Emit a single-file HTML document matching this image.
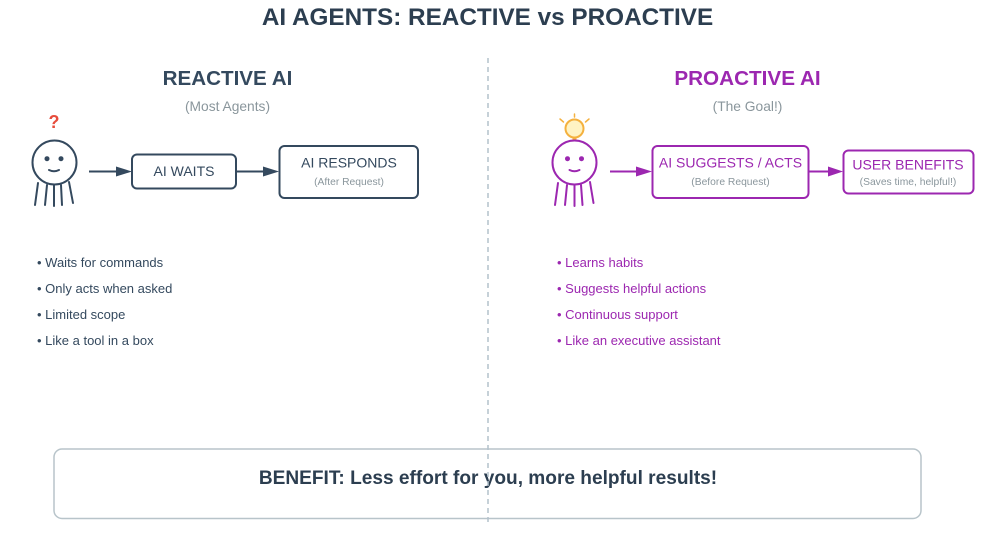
<!DOCTYPE html>
<html>
<head>
<meta charset="utf-8">
<style>
html,body{margin:0;padding:0;background:#fff;width:1001px;height:533px;overflow:hidden}
svg{display:block}
text{font-family:"Liberation Sans",Arial,sans-serif}
</style>
</head>
<body>
<svg width="1001" height="533" viewBox="0 0 1001 533" xmlns="http://www.w3.org/2000/svg">
<rect width="1001" height="533" fill="#fff"/>

<text x="487.500" y="25" font-size="24.300" font-weight="bold" fill="#2c3e50" text-anchor="middle">AI AGENTS: REACTIVE vs PROACTIVE</text>

<!-- LEFT -->
<text x="227.500" y="85" font-size="20.600" font-weight="bold" fill="#34495e" text-anchor="middle">REACTIVE AI</text>
<text x="227.500" y="111" font-size="13.800" fill="#8a969c" text-anchor="middle">(Most Agents)</text>
<text x="54" y="128" font-size="18" font-weight="bold" fill="#e74c3c" text-anchor="middle">?</text>

<g fill="none" stroke="#34495e" stroke-width="2" stroke-linecap="round">
<circle cx="54.500" cy="162.500" r="22" fill="#fff"/>
<path d="M49 170q5 2.500 10 0"/>
<path d="M38 183L35 205"/>
<path d="M47 185L45 205"/>
<path d="M54 185L54 206"/>
<path d="M61 185L62 205"/>
<path d="M69 182L73 203"/>
</g>
<circle cx="47" cy="158.700" r="2.500" fill="#34495e"/>
<circle cx="61" cy="158.700" r="2.500" fill="#34495e"/>

<line x1="89" y1="171.500" x2="118" y2="171.500" stroke="#34495e" stroke-width="2"/>
<polygon points="116,166.500 132,171.500 116,176.500" fill="#34495e"/>
<rect x="132" y="154.500" width="104" height="34" rx="5" fill="#fff" stroke="#34495e" stroke-width="2"/>
<text x="184" y="176" font-size="14" fill="#34495e" text-anchor="middle">AI WAITS</text>

<line x1="236" y1="171.500" x2="265" y2="171.500" stroke="#34495e" stroke-width="2"/>
<polygon points="263,166.500 279,171.500 263,176.500" fill="#34495e"/>
<rect x="279.500" y="146" width="138.500" height="52" rx="5" fill="#fff" stroke="#34495e" stroke-width="2"/>
<text x="349" y="167.500" font-size="14" fill="#34495e" text-anchor="middle">AI RESPONDS</text>
<text x="349" y="185" font-size="10.300" fill="#8a969c" text-anchor="middle">(After Request)</text>

<g font-size="13" fill="#34495e">
<text x="37" y="267">• Waits for commands</text>
<text x="37" y="293">• Only acts when asked</text>
<text x="37" y="319">• Limited scope</text>
<text x="37" y="345">• Like a tool in a box</text>
</g>

<!-- RIGHT -->
<text x="747.500" y="85" font-size="20.700" font-weight="bold" fill="#9c27b0" text-anchor="middle">PROACTIVE AI</text>
<text x="747.500" y="111" font-size="13.800" fill="#8a969c" text-anchor="middle">(The Goal!)</text>

<g stroke="#f4b13f" stroke-width="1.500" stroke-linecap="round" fill="none">
<circle cx="574.500" cy="128.500" r="9" fill="#fff3c4" stroke-width="2"/>
<path d="M574.500 114V117"/>
<path d="M560 119L563.500 122"/>
<path d="M589 119L585.500 122"/>
<path d="M574.500 137.500V141" stroke-width="4" stroke-linecap="butt"/>
</g>

<g fill="none" stroke="#9c27b0" stroke-width="2" stroke-linecap="round">
<circle cx="574.500" cy="162.500" r="22" fill="#fff"/>
<path d="M569.500 170q5 2.500 10 0"/>
<path d="M558 183L555 205"/>
<path d="M567 185L565 205"/>
<path d="M574.500 185L574.500 206"/>
<path d="M581 185L582.500 205"/>
<path d="M590 182L593.500 203"/>
</g>
<circle cx="567.500" cy="158.700" r="2.500" fill="#9c27b0"/>
<circle cx="581.500" cy="158.700" r="2.500" fill="#9c27b0"/>

<line x1="610" y1="171.500" x2="638" y2="171.500" stroke="#9c27b0" stroke-width="2"/>
<polygon points="636,166.500 652,171.500 636,176.500" fill="#9c27b0"/>
<rect x="652.500" y="146" width="156" height="52" rx="5" fill="#fff" stroke="#9c27b0" stroke-width="2"/>
<text x="730.500" y="167.500" font-size="14" fill="#9c27b0" text-anchor="middle">AI SUGGESTS / ACTS</text>
<text x="730.500" y="185" font-size="10.300" fill="#8a969c" text-anchor="middle">(Before Request)</text>

<line x1="809" y1="171.500" x2="830" y2="171.500" stroke="#9c27b0" stroke-width="2"/>
<polygon points="828,166.500 843,171.500 828,176.500" fill="#9c27b0"/>
<rect x="843.500" y="150.500" width="130" height="43" rx="5" fill="#fff" stroke="#9c27b0" stroke-width="2"/>
<text x="908" y="169.500" font-size="14" fill="#9c27b0" text-anchor="middle">USER BENEFITS</text>
<text x="908" y="185" font-size="10.300" fill="#8a969c" text-anchor="middle">(Saves time, helpful!)</text>

<g font-size="13" fill="#9c27b0">
<text x="557" y="267">• Learns habits</text>
<text x="557" y="293">• Suggests helpful actions</text>
<text x="557" y="319">• Continuous support</text>
<text x="557" y="345">• Like an executive assistant</text>
</g>

<!-- BENEFIT -->
<rect x="54" y="449" width="867" height="69.500" rx="8" fill="none" stroke="#b8c4ca" stroke-width="1.500"/>
<text x="488" y="484" font-size="19.100" font-weight="bold" fill="#2c3e50" text-anchor="middle">BENEFIT: Less effort for you, more helpful results!</text>

<line x1="488" y1="58" x2="488" y2="523" stroke="#b4c2cc" stroke-width="1.500" stroke-dasharray="5 4"/>
</svg>
</body>
</html>
